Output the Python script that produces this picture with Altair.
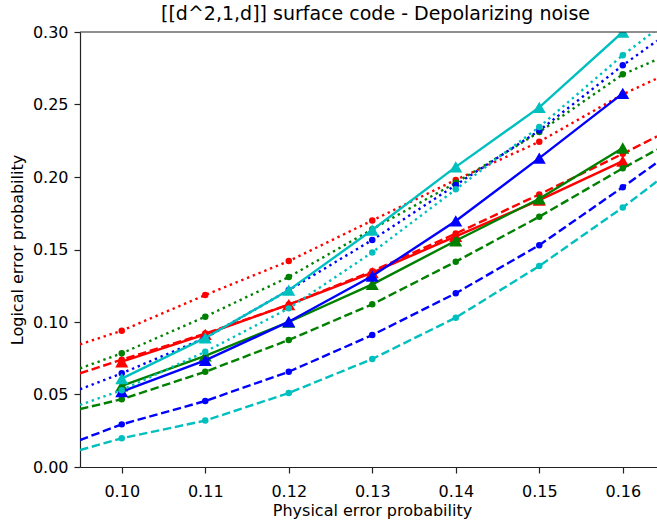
import altair as alt
import pandas as pd

# ---------------- data ----------------
x_pts = [0.10, 0.11, 0.12, 0.13, 0.14, 0.15, 0.16]
x_left, x_right = 0.095, 0.1641          # where the fitted curves meet the frame

colors = {"red": "#ff0000", "green": "#008000", "blue": "#0000ff", "cyan": "#00bfbf"}
order = ["red", "green", "blue", "cyan"]

# solid lines with triangles (simulated data)
solid = {
    "red":   [0.0726, 0.0915, 0.112, 0.134, 0.159, 0.184, 0.211],
    "green": [0.056, 0.0766, 0.100, 0.126, 0.156, 0.185, 0.220],
    "blue":  [0.052, 0.0735, 0.1002, 0.1317, 0.1697, 0.213, 0.2577],
    "cyan":  [0.061, 0.089, 0.122, 0.1634, 0.207, 0.248, 0.300],
}
# dashed curves with dots
dashed = {
    "red":   [0.074, 0.092, 0.112, 0.135, 0.161, 0.188, 0.216],
    "green": [0.0467, 0.0657, 0.0876, 0.1122, 0.1416, 0.1726, 0.206],
    "blue":  [0.0294, 0.0455, 0.0657, 0.091, 0.1198, 0.153, 0.193],
    "cyan":  [0.0198, 0.032, 0.051, 0.0745, 0.103, 0.1386, 0.179],
}
dashed_left = {"red": 0.0646, "green": 0.040, "blue": 0.0186, "cyan": 0.0117}
dashed_right = {"red": 0.228, "green": 0.219, "blue": 0.210, "cyan": 0.197}
# dotted curves with dots
dotted = {
    "red":   [0.094, 0.1186, 0.142, 0.170, 0.198, 0.2243, 0.257],
    "green": [0.0784, 0.1037, 0.131, 0.164, 0.196, 0.231, 0.2708],
    "blue":  [0.0646, 0.089, 0.122, 0.1566, 0.1945, 0.232, 0.277],
    "cyan":  [0.053, 0.0795, 0.1094, 0.148, 0.1915, 0.2345, 0.284],
}
dotted_left = {"red": 0.0846, "green": 0.068, "blue": 0.0536, "cyan": 0.0428}
dotted_right = {"red": 0.268, "green": 0.281, "blue": 0.294, "cyan": 0.302}

y_ticks = [0.00, 0.05, 0.10, 0.15, 0.20, 0.25, 0.30]

# ---------------- chart ----------------
FONT = "DejaVu Sans"
X = alt.X("x:Q", scale=alt.Scale(domain=[x_left, x_right], nice=False, zero=False),
          axis=alt.Axis(values=x_pts, format=".2f", title="Physical error probability",
                        grid=False, tickSize=6, labelPadding=23, labelBaseline="alphabetic",
                        titleX=292, titleY=48, titleBaseline="alphabetic"))
Y = alt.Y("y:Q", scale=alt.Scale(domain=[0, 0.30], nice=False),
          axis=alt.Axis(values=y_ticks, format=".2f", title="Logical error probability",
                        grid=False, tickSize=6, labelPadding=6,
                        titleX=-58, titleY=217.5, titleBaseline="alphabetic",
                        titleAngle=270))

LW = 2.4
layers = []
for c in order:
    col = colors[c]
    df_s = pd.DataFrame({"x": x_pts, "y": solid[c]})
    df_d = pd.DataFrame({"x": [x_left] + x_pts + [x_right],
                         "y": [dashed_left[c]] + dashed[c] + [dashed_right[c]]})
    df_dm = pd.DataFrame({"x": x_pts, "y": dashed[c]})
    df_o = pd.DataFrame({"x": [x_left] + x_pts + [x_right],
                         "y": [dotted_left[c]] + dotted[c] + [dotted_right[c]]})
    df_om = pd.DataFrame({"x": x_pts, "y": dotted[c]})

    layers.append(alt.Chart(df_s).mark_line(color=col, strokeWidth=LW, clip=True)
                  .encode(x=X, y=Y))
    layers.append(alt.Chart(df_s).mark_point(shape="triangle-up", filled=True, size=170,
                                             color=col, opacity=1, clip=True)
                  .encode(x=X, y=Y))
    layers.append(alt.Chart(df_d).mark_line(color=col, strokeWidth=LW, strokeDash=[8.5, 3.7],
                                            clip=True)
                  .encode(x=X, y=Y))
    layers.append(alt.Chart(df_dm).mark_circle(size=42, color=col, opacity=1, clip=True)
                  .encode(x=X, y=Y))
    layers.append(alt.Chart(df_o).mark_line(color=col, strokeWidth=LW, strokeDash=[2.4, 3.8],
                                            clip=True)
                  .encode(x=X, y=Y))
    layers.append(alt.Chart(df_om).mark_circle(size=42, color=col, opacity=1, clip=True)
                  .encode(x=X, y=Y))

top_rule = alt.Chart(pd.DataFrame({"a": [0]})).mark_rule(color="#222222", strokeWidth=1.2).encode(
    x=alt.value(0), x2=alt.value(577), y=alt.value(0))

chart = alt.layer(*layers, top_rule).properties(
    width=577, height=435,
    padding={"left": 80, "top": 32, "right": 0, "bottom": 55},
    autosize="none",
    background="white",
    title=alt.TitleParams("[[d^2,1,d]] surface code - Depolarizing noise",
                          font=FONT, fontSize=19, fontWeight="normal", color="black",
                          anchor="middle", baseline="alphabetic", offset=0, dx=7, dy=15),
).configure_view(stroke=None).configure_axis(
    labelFont=FONT, titleFont=FONT, labelFontSize=16, titleFontSize=16,
    labelColor="black", titleColor="black", titleFontWeight="normal",
    domainColor="#222222", tickColor="#222222", domainWidth=1.2, tickWidth=1.2,
)

chart.save("out.html", embed_options={"renderer": "svg", "actions": False})
